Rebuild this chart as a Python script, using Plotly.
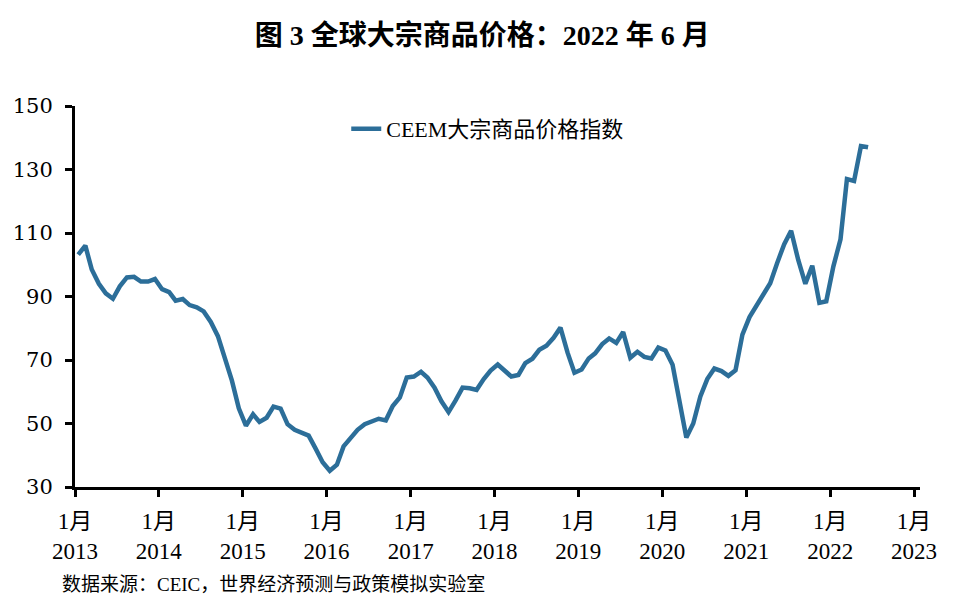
import plotly.graph_objects as go
import pandas as pd

# Monthly CEEM commodity price index, Jan 2013 - Jun 2022
values = [
    103.2, 106.0, 98.5, 94.0, 91.0, 89.3, 93.2, 96.0, 96.2, 94.7, 94.7, 95.5,   # 2013
    92.3, 91.4, 88.7, 89.2, 87.3, 86.6, 85.3, 82.0, 77.5, 70.5, 63.5, 54.8,     # 2014
    49.3, 52.9, 50.5, 51.8, 55.3, 54.7, 49.8, 48.0, 47.2, 46.2, 42.0, 37.8,     # 2015
    35.1, 37.0, 42.8, 45.7, 48.0, 49.8, 50.5, 51.5, 51.0, 55.5, 58.2, 64.5,     # 2016
    64.8, 66.3, 64.5, 61.3, 57.0, 53.6, 57.2, 61.3, 61.1, 60.6, 64.0, 66.7,     # 2017
    68.6, 66.6, 64.8, 65.3, 69.0, 70.4, 73.2, 74.5, 77.0, 80.2, 72.3, 66.0,     # 2018
    67.0, 70.5, 72.1, 75.0, 76.8, 75.4, 78.8, 70.7, 72.6, 71.0, 70.5, 73.9,     # 2019
    73.0, 68.5, 57.5, 45.6, 50.0, 58.5, 64.0, 67.3, 66.5, 65.0, 66.8, 78.0,     # 2020
    83.5, 87.0, 90.8, 94.2, 100.5, 106.5, 110.7, 101.5, 94.0, 99.7, 88.0, 88.5, # 2021
    99.5, 108.0, 127.0, 126.4, 137.4, 137.0,                                    # 2022
]
dates = pd.date_range("2013-01-01", periods=len(values), freq="MS") + pd.Timedelta(days=14)
years = list(range(2013, 2024))
tick_dates = [f"{y}-01-01" for y in years]
tick_text = [f"1月<br>{y}" for y in years]
y_ticks = [30, 50, 70, 90, 110, 130, 150]

series_name = "CEEM大宗商品价格指数"
title_text = "<b>图 3 全球大宗商品价格：2022 年 6 月</b>"
source_text = "数据来源：CEIC，世界经济预测与政策模拟实验室"

FONT = "Liberation Serif, Noto Sans CJK SC, serif"
COLOR = "#2C6E99"

fig = go.Figure()
fig.add_trace(go.Scatter(
    x=dates, y=values, mode="lines", name=series_name,
    line=dict(color=COLOR, width=4.5),
))

fig.update_layout(
    width=958, height=615,
    margin=dict(l=67, r=46, t=98, b=136, autoexpand=False),
    paper_bgcolor="white", plot_bgcolor="white",
    font=dict(family=FONT, color="black", size=20),
    title=dict(text=title_text, x=0.495, xanchor="center", y=0.956, yanchor="middle",
               font=dict(size=28, family=FONT, color="black"), automargin=False),
    showlegend=True,
    legend=dict(x=0.321, y=0.94, xanchor="left", yanchor="middle",
                bgcolor="rgba(0,0,0,0)", font=dict(size=22, family=FONT)),
    xaxis=dict(
        type="date", range=["2013-01-01", "2023-01-27"], automargin=False,
        tickmode="array", tickvals=tick_dates, ticktext=tick_text,
        showgrid=False, zeroline=False,
        showline=True, linecolor="black", linewidth=3,
        ticks="outside", ticklen=7, tickwidth=2.5, tickcolor="black",
        ticklabelstandoff=4,
        tickfont=dict(size=23, family=FONT),
    ),
    yaxis=dict(
        range=[30, 150], tickmode="array", tickvals=y_ticks, automargin=False,
        showgrid=False, zeroline=False,
        showline=True, linecolor="black", linewidth=3,
        ticks="outside", ticklen=7, tickwidth=2.5, tickcolor="black",
        ticklabelstandoff=8,
        tickfont=dict(size=21, family="DejaVu Serif, serif"),
    ),
    annotations=[dict(
        text=source_text, xref="paper", yref="paper",
        x=-0.018, y=-0.257, xanchor="left", yanchor="middle", showarrow=False,
        font=dict(size=19, family=FONT),
    )],
)

fig.write_html("out.html")
